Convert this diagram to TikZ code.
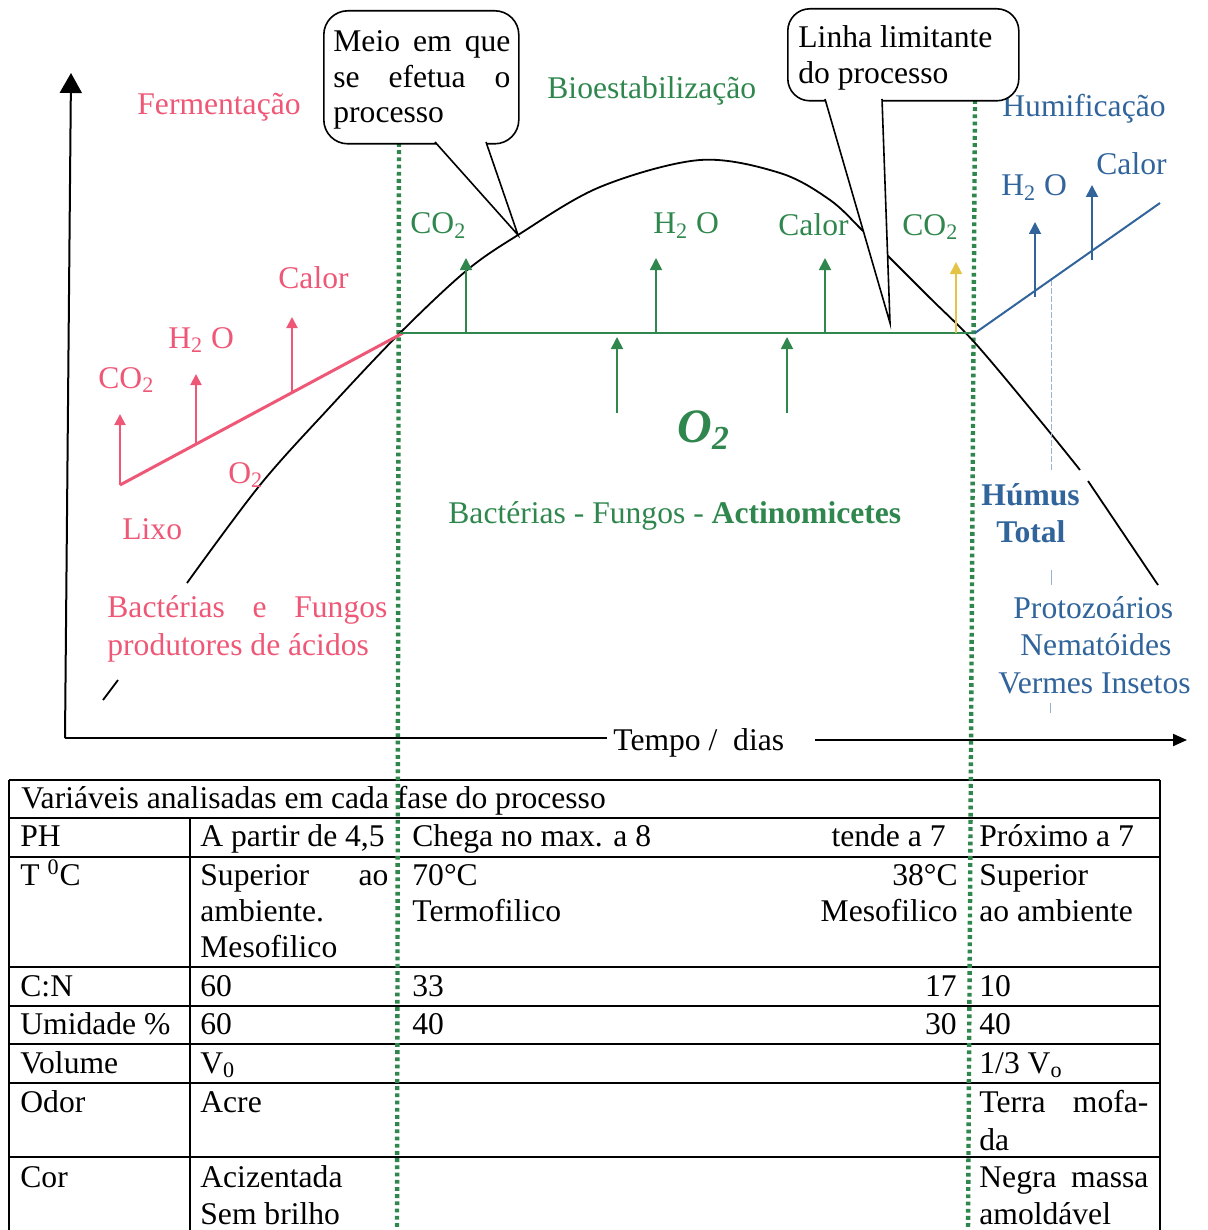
\documentclass[tikz,border=0pt]{standalone}
\usepackage{fontspec}
\setmainfont{Liberation Serif}
\usetikzlibrary{arrows.meta}
\definecolor{fermred}{RGB}{238,88,118}
\definecolor{bioGreen}{RGB}{48,135,78}
\definecolor{humblue}{RGB}{48,100,155}
\definecolor{heatyellow}{RGB}{228,196,70}
\definecolor{faintblue}{RGB}{150,180,210}
\newcommand\lowsub[1]{\textsubscript{#1}}
\newcommand\jline[2]{\makebox[#1][s]{#2}}

\begin{document}
\begin{tikzpicture}[x=0.5pt,y=-0.5pt,
  lbl/.style={anchor=base west, inner sep=0pt, font=\fontsize{15.8}{18}\selectfont},
  rlbl/.style={anchor=base east, inner sep=0pt, font=\fontsize{15.8}{18}\selectfont},
  axisline/.style={line width=1pt, black},
  axishead/.style={-{Triangle[length=10pt,width=11pt]}},
  curveline/.style={line width=0.9pt, black},
  phase/.style={draw=bioGreen, line width=2.2pt, dash pattern=on 1.9pt off 1.7pt},
  redline/.style={draw=fermred, line width=1.5pt},
  redarrow/.style={draw=fermred, line width=1pt, -{Triangle[length=5.5pt,width=5.5pt]}},
  grnline/.style={draw=bioGreen, line width=1pt},
  grnarrow/.style={draw=bioGreen, line width=0.9pt, -{Triangle[length=6pt,width=6pt]}},
  yelarrow/.style={draw=heatyellow, line width=0.9pt, -{Triangle[length=6pt,width=6pt]}},
  blueline/.style={draw=humblue, line width=1pt},
  bluearrow/.style={draw=humblue, line width=0.9pt, -{Triangle[length=6pt,width=6pt]}},
  callbox/.style={draw=black, fill=white, line width=0.8pt, rounded corners=12pt, inner sep=0pt},
  tbl/.style={draw=black, line width=0.7pt},
]
\useasboundingbox (0,0) rectangle (1208,1230);

% ---------- table of variables ----------
\draw[tbl] (9,780) -- (9,1230);
\draw[tbl] (1160,780) -- (1160,1230);
\draw[tbl] (190,818) -- (190,1230);
\foreach \yy in {780,818,857,967,1006,1044,1083,1157}
  \draw[tbl] (9,\yy) -- (1160,\yy);

\node[lbl] (thead) at (21,808) {Variáveis analisadas em cada fase do processo};
\node[lbl] (tph) at (20,846) {PH};
\node[lbl] (ttemp) at (20,885) {T \textsuperscript{0}C};
\node[lbl] (tcn) at (20,996) {C:N};
\node[lbl] (tumi) at (20,1034) {Umidade \%};
\node[lbl] (tvol) at (20,1073) {Volume};
\node[lbl] (todor) at (20,1112) {Odor};
\node[lbl] (tcor) at (20,1187) {Cor};

\node[lbl] (aph) at (200,846) {A partir de 4,5};
\node[lbl] (atemp1) at (200,885) {\jline{94pt}{Superior ao}};
\node[lbl] (atemp2) at (200,921) {ambiente.};
\node[lbl] (atemp3) at (200,957) {Mesofilico};
\node[lbl] (acn) at (200,996) {60};
\node[lbl] (aumi) at (200,1034) {60};
\node[lbl] (avol) at (200,1073) {V\lowsub{0}};
\node[lbl] (aodor) at (200,1112) {Acre};
\node[lbl] (acor1) at (200,1187) {Acizentada};
\node[lbl] (acor2) at (200,1224) {Sem brilho};

\node[lbl] (bph) at (412,846) {Chega no max. a 8};
\node[rlbl] (bphr) at (946,846) {tende a 7};
\node[lbl] (btemp1) at (412,885) {70°C};
\node[lbl] (btemp2) at (412,921) {Termofilico};
\node[rlbl] (btemp3) at (958,885) {38°C};
\node[rlbl] (btemp4) at (958,921) {Mesofilico};
\node[lbl] (bcn) at (412,996) {33};
\node[rlbl] (bcnr) at (957,996) {17};
\node[lbl] (bumi) at (412,1034) {40};
\node[rlbl] (bumir) at (957,1034) {30};

\node[lbl] (cph) at (979,846) {Próximo a 7};
\node[lbl] (ctemp1) at (979,885) {Superior};
\node[lbl] (ctemp2) at (979,921) {ao ambiente};
\node[lbl] (ccn) at (979,996) {10};
\node[lbl] (cumi) at (979,1034) {40};
\node[lbl] (cvol) at (979,1073) {1/3 V\lowsub{o}};
\node[lbl] (codor1) at (979,1112) {\jline{84.5pt}{Terra mofa-}};
\node[lbl] (codor2) at (979,1150) {da};
\node[lbl] (ccor1) at (979,1187) {\jline{84.5pt}{Negra massa}};
\node[lbl] (ccor2) at (979,1224) {amoldável};

% ---------- axes ----------
\coordinate (origin) at (65,738);
\coordinate (ytip) at (71,73);
\coordinate (xgapL) at (607,738);
\coordinate (xgapR) at (815,740);
\coordinate (xtip) at (1187,740);
\draw[axisline, axishead] (origin) -- (ytip);
\draw[axisline] (origin) -- (xgapL);
\draw[axisline, -{Triangle[length=7pt,width=6pt]}] (xgapR) -- (xtip);
\node[lbl] (tempo) at (613,750) {Tempo /\ \ dias};

% ---------- green phase boundaries ----------
\coordinate (phAtop) at (399,143);
\coordinate (phAbot) at (397,1230);
\coordinate (phBtop) at (975,100);
\coordinate (phBbot) at (968,1230);
\draw[phase] (phAtop) -- (phAbot);
\draw[phase] (phBtop) -- (phBbot);

% ---------- temperature curve ----------
\draw[curveline] (103,700) -- (118,680);
\draw[curveline] plot[smooth, tension=0.55] coordinates {(187,583) (260,485) (330,407) (400,333) (466,271) (518,235) (600,187) (700,160) (780,173) (830,200) (862,230) (890,258) (930,298) (975,343) (1038,418) (1080,470)};
\draw[curveline] (1088,481) -- (1158,585);

% faint guide in the humification phase
\draw[faintblue, line width=0.5pt, dash pattern=on 3pt off 1pt] (1051,280) -- (1051,470);
\draw[faintblue, line width=0.5pt] (1051,570) -- (1051,585);
\draw[faintblue, line width=0.5pt] (1050,703) -- (1050,713);

% ---------- fermentation (red) ----------
\coordinate (lixo0) at (120,485);
\coordinate (lixo1) at (196,444);
\coordinate (lixo2) at (292,392);
\coordinate (lixoEnd) at (403,333);
\coordinate (redtip0) at (120,414);
\coordinate (redtip1) at (196,374);
\coordinate (redtip2) at (292,317);
\draw[redline] (lixo0) -- (lixoEnd);
\draw[redarrow] (lixo0) -- (redtip0);
\draw[redarrow] (lixo1) -- (redtip1);
\draw[redarrow] (lixo2) -- (redtip2);

\begin{scope}[every node/.append style={text=fermred}]
\node[lbl] (ferm) at (137,115) {Fermentação};
\node[lbl] (rcalor) at (278,288) {Calor};
\node[lbl] (rh2o) at (168,348) {H\lowsub{2} O};
\node[lbl] (rco2) at (98,388) {CO\lowsub{2}};
\node[lbl] (ro2) at (228,483) {O\lowsub{2}};
\node[lbl] (lixo) at (122,539) {Lixo};
\node[lbl] (bact1) at (107,617) {\jline{140pt}{Bactérias e Fungos}};
\node[lbl] (bact2) at (107,655) {produtores de ácidos};
\end{scope}

% ---------- bio-stabilisation (green) ----------
\coordinate (plateauL) at (400,333);
\coordinate (plateauR) at (975,333);
\draw[grnline] (plateauL) -- (plateauR);
\foreach \xx/\nm in {466/ga,656/gb,825/gc}{
  \coordinate (\nm base) at (\xx,333);
  \coordinate (\nm tip) at (\xx,258);
  \draw[grnarrow] (\nm base) -- (\nm tip);
}
\foreach \xx/\nm in {617/oa,787/ob}{
  \coordinate (\nm base) at (\xx,413);
  \coordinate (\nm tip) at (\xx,337);
  \draw[grnarrow] (\nm base) -- (\nm tip);
}
\coordinate (ybase) at (956,333);
\coordinate (ytip2) at (956,262);
\draw[yelarrow] (ybase) -- (ytip2);

\begin{scope}[every node/.append style={text=bioGreen}]
\node[lbl] (bio) at (547,99) {Bioestabilização};
\node[lbl] (gco2a) at (410,234) {CO\lowsub{2}};
\node[lbl] (gh2o) at (653,234) {H\lowsub{2} O};
\node[lbl] (gcalor) at (778,235) {Calor};
\node[lbl] (gco2b) at (902,235) {CO\lowsub{2}};
\node[lbl, font=\fontsize{24}{28}\selectfont\bfseries\itshape] (bigo2) at (677,442) {O\lowsub{2}};
\node[lbl] (micro) at (448,523) {Bactérias - Fungos - \textbf{Actinomicetes}};
\end{scope}

% ---------- humification (blue) ----------
\coordinate (humL) at (975,333);
\coordinate (humR) at (1160,203);
\draw[blueline] (humL) -- (humR);
\coordinate (ha) at (1035,297);
\coordinate (hatip) at (1035,222);
\coordinate (hb) at (1092,260);
\coordinate (hbtip) at (1092,185);
\draw[bluearrow] (ha) -- (hatip);
\draw[bluearrow] (hb) -- (hbtip);

\begin{scope}[every node/.append style={text=humblue}]
\node[lbl] (humi) at (1002,117) {Humificação};
\node[lbl] (bh2o) at (1001,196) {H\lowsub{2} O};
\node[lbl] (bcalor) at (1096,175) {Calor};
\node[lbl, font=\fontsize{15.8}{18}\selectfont\bfseries] (humus) at (981,505) {Húmus};
\node[lbl, font=\fontsize{15.8}{18}\selectfont\bfseries] (total) at (996,542) {Total};
\node[lbl] (proto) at (1013,618) {Protozoários};
\node[lbl] (nema) at (1020,655) {Nematóides};
\node[lbl] (verm) at (998,693) {Vermes Insetos};
\end{scope}

% ---------- callouts ----------
\node[callbox, minimum width=97.5pt, minimum height=66.5pt, anchor=north west] (meiobox) at (323,10) {};
\coordinate (meioA) at (435,142);
\coordinate (meioB) at (486,142);
\coordinate (meiotip) at (518,235);
\fill[white] (meioA) -- (meiotip) -- (meioB) -- cycle;
\draw[line width=0.8pt] (meioA) -- (meiotip) -- (meioB);
\node[lbl] (meio1) at (333,52) {\jline{88.5pt}{Meio em que}};
\node[lbl] (meio2) at (333,88) {\jline{88.5pt}{se efetua o}};
\node[lbl] (meio3) at (333,123) {processo};

\node[callbox, minimum width=115.5pt, minimum height=46pt, anchor=north west, rounded corners=11pt] (linhabox) at (787,8) {};
\coordinate (linhaA) at (825,99);
\coordinate (linhaB) at (882,99);
\coordinate (linhatip) at (890,323);
\fill[white] (linhaA) -- (linhatip) -- (linhaB) -- cycle;
\draw[line width=0.8pt] (linhaA) -- (linhatip) -- (linhaB);
\node[lbl] (linha1) at (798,48) {Linha limitante};
\node[lbl] (linha2) at (798,84) {do processo};
\end{tikzpicture}
\end{document}
